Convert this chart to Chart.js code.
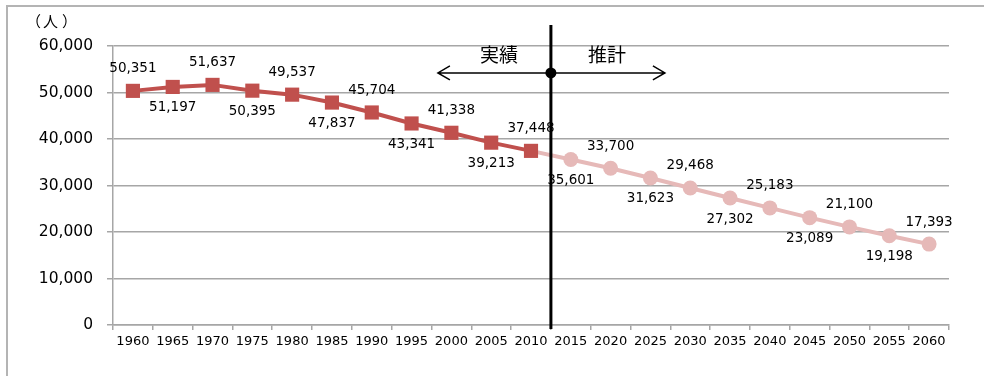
<!DOCTYPE html>
<html>
<head>
<meta charset="utf-8">
<script src="https://cdn.jsdelivr.net/npm/chart.js@4.4.1/dist/chart.umd.min.js"></script>
<style>
  body { margin: 0; background: #fff; }
  #frame { position: absolute; left: 6px; top: 5px; width: 1200px; height: 600px; border: 2px solid #b4b4b4; }
  #wrap { position: absolute; left: 0; top: 0; width: 984px; height: 376px; }
</style>
</head>
<body>
<div id="frame"></div>
<div id="wrap"><canvas id="myChart"></canvas></div>
<script>
// 人口の推移（実績 1960-2010, 推計 2015-2060）
const years = ["1960", "1965", "1970", "1975", "1980", "1985", "1990", "1995", "2000", "2005",
  "2010", "2015", "2020", "2025", "2030", "2035", "2040", "2045", "2050", "2055", "2060"];
const actualValues = [50351, 51197, 51637, 50395, 49537, 47837, 45704, 43341, 41338, 39213, 37448];
const projectedValues = [35601, 33700, 31623, 29468, 27302, 25183, 23089, 21100, 19198, 17393];
const unitLabel = ["（", "人", "）"];
const leftLabel = "実績";
const rightLabel = "推計";

const redColor = "#c0504d";
const pinkColor = "#e6b9b8";
const gridColor = "#a6a6a6";

const nActual = actualValues.length;
const allValues = actualValues.concat(projectedValues);

// 実績: 1960-2010, rest empty
const actualData = years.map((y, i) => (i < nActual ? actualValues[i] : null));
// 推計: starts from the last actual point so the pink line joins up
const projectedData = years.map((y, i) => {
  if (i === nActual - 1) return actualValues[i];
  if (i >= nActual) return projectedValues[i - nActual];
  return null;
});
const projectedRadius = years.map((y, i) => (i < nActual ? 0 : 7.5));

const extras = {
  id: "extras",
  afterDatasetsDraw(chart) {
    const ctx = chart.ctx;
    const xs = chart.scales.x;
    const ys = chart.scales.y;
    ctx.save();

    // value labels, alternating above / below
    ctx.font = "13.5px 'DejaVu Sans'";
    ctx.fillStyle = "#000";
    ctx.textAlign = "center";
    ctx.textBaseline = "middle";
    allValues.forEach((v, i) => {
      const x = xs.getPixelForValue(i);
      const y = ys.getPixelForValue(v);
      ctx.fillText(v.toLocaleString("en-US"), x, i % 2 === 0 ? y - 22 : y + 21);
    });

    // unit, one glyph at a time so the brackets keep their full width
    ctx.font = "15px 'Noto Sans CJK JP'";
    ctx.textAlign = "left";
    ctx.fillText(unitLabel[0], 26, 21);
    ctx.fillText(unitLabel[1], 43, 21);
    ctx.fillText(unitLabel[2], 62, 21);
    ctx.textAlign = "center";

    // divider between 実績 and 推計
    const lx = (xs.getPixelForValue(nActual - 1) + xs.getPixelForValue(nActual)) / 2;
    const top = ys.getPixelForValue(64500);
    const dotY = ys.getPixelForValue(54200);
    ctx.strokeStyle = "#000";
    ctx.lineWidth = 3;
    ctx.beginPath();
    ctx.moveTo(lx, top);
    ctx.lineTo(lx, ys.bottom + 4);
    ctx.stroke();

    // arrows
    ctx.lineWidth = 1.5;
    const lTip = lx - 113;
    const rTip = lx + 114;
    ctx.beginPath();
    ctx.moveTo(lTip, dotY);
    ctx.lineTo(rTip, dotY);
    ctx.moveTo(lTip + 12, dotY - 7);
    ctx.lineTo(lTip, dotY);
    ctx.lineTo(lTip + 12, dotY + 7);
    ctx.moveTo(rTip - 12, dotY - 7);
    ctx.lineTo(rTip, dotY);
    ctx.lineTo(rTip - 12, dotY + 7);
    ctx.stroke();

    ctx.fillStyle = "#000";
    ctx.beginPath();
    ctx.arc(lx, dotY, 5.5, 0, Math.PI * 2);
    ctx.fill();

    ctx.font = "19px 'Noto Sans CJK JP'";
    ctx.fillText(leftLabel, lx - 52, dotY - 18);
    ctx.fillText(rightLabel, lx + 56, dotY - 18);
    ctx.restore();
  }
};

const config = {
  type: "line",
  data: {
    labels: years,
    datasets: [
      {
        label: "実績",
        data: actualData,
        borderColor: redColor,
        backgroundColor: redColor,
        borderWidth: 4,
        pointStyle: "rect",
        pointRadius: 10,
        pointHoverRadius: 10,
        pointBorderWidth: 0,
        tension: 0,
        spanGaps: false
      },
      {
        label: "推計",
        data: projectedData,
        borderColor: pinkColor,
        backgroundColor: pinkColor,
        borderWidth: 4,
        pointStyle: "circle",
        pointRadius: projectedRadius,
        pointHoverRadius: projectedRadius,
        pointBorderWidth: 0,
        tension: 0,
        spanGaps: false
      }
    ]
  },
  options: {
    responsive: false,
    animation: false,
    events: [],
    layout: { padding: { top: 46, right: 35, left: 0, bottom: 0 } },
    plugins: {
      legend: { display: false },
      tooltip: { enabled: false }
    },
    scales: {
      x: {
        offset: true,
        afterFit: (s) => { s.height = 51; },
        grid: { drawOnChartArea: false, drawTicks: true, tickLength: 5, color: gridColor, lineWidth: 1.5, offset: true },
        border: { display: true, color: gridColor, width: 1.5 },
        ticks: {
          autoSkip: false,
          maxRotation: 0,
          padding: 4,
          color: "#000",
          font: { family: "'DejaVu Sans'", size: 13 }
        }
      },
      y: {
        min: 0,
        max: 60000,
        afterFit: (s) => { s.width = 113; },
        grid: { color: gridColor, lineWidth: 1.5, tickLength: 6 },
        border: { display: true, color: gridColor, width: 1.5 },
        ticks: {
          stepSize: 10000,
          padding: 14,
          color: "#000",
          font: { family: "'DejaVu Sans'", size: 15.5 },
          callback: (v) => v.toLocaleString("en-US")
        }
      }
    }
  },
  plugins: [extras]
};

const canvas = document.getElementById("myChart");
canvas.width = 984;
canvas.height = 376;
new Chart(canvas, config);
</script>
</body>
</html>
